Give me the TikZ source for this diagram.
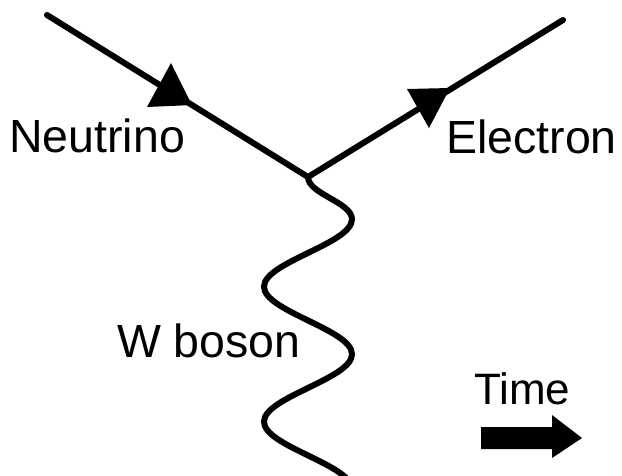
\documentclass[tikz,border=0pt]{standalone}
\usepackage{fontspec}
\setmainfont{Liberation Sans}
\usetikzlibrary{decorations.pathmorphing}

\tikzset{
    fermion/.style={line width=6pt, line cap=round},
    label/.style={inner sep=0pt, anchor=base west, font=\fontsize{46.5}{52}\selectfont},
}

\begin{document}
\begin{tikzpicture}[x=1pt, y=-1pt]

\clip (0,0) rectangle (622,475);
\fill[white] (0,0) rectangle (622,475);

% --- Vertex and line ends ---
\coordinate (vtx) at (308,177);
\coordinate (nustart) at (47,15);
\coordinate (eend) at (563,20);
\coordinate (wend) at (308,582);

% --- Fermion lines ---
\draw[fermion] (nustart) -- (vtx);
\draw[fermion] (vtx) -- (eend);

% --- Arrowheads ---
\fill (171,63) -- (192,105) -- (147,107) -- cycle;
\fill (407,89) -- (450,88) -- (429,128) -- cycle;

% --- W boson ---
\draw[line width=6pt, decorate,
      decoration={snake, amplitude=44pt, segment length=135pt}] (vtx) -- (wend);

% --- Labels ---
\node[label] (nulabel) at (9,152) {Neutrino};
\node[label] (elabel) at (446,153) {Electron};
\node[label] (wlabel) at (117,357) {W boson};
\node[label, font=\fontsize{44}{48}\selectfont] (tlabel) at (474,404) {Time};

% --- Time arrow ---
\fill (481,427) -- (552,427) -- (552,415) -- (582,438) -- (552,458)
      -- (552,449) -- (481,449) -- cycle;

\end{tikzpicture}
\end{document}
